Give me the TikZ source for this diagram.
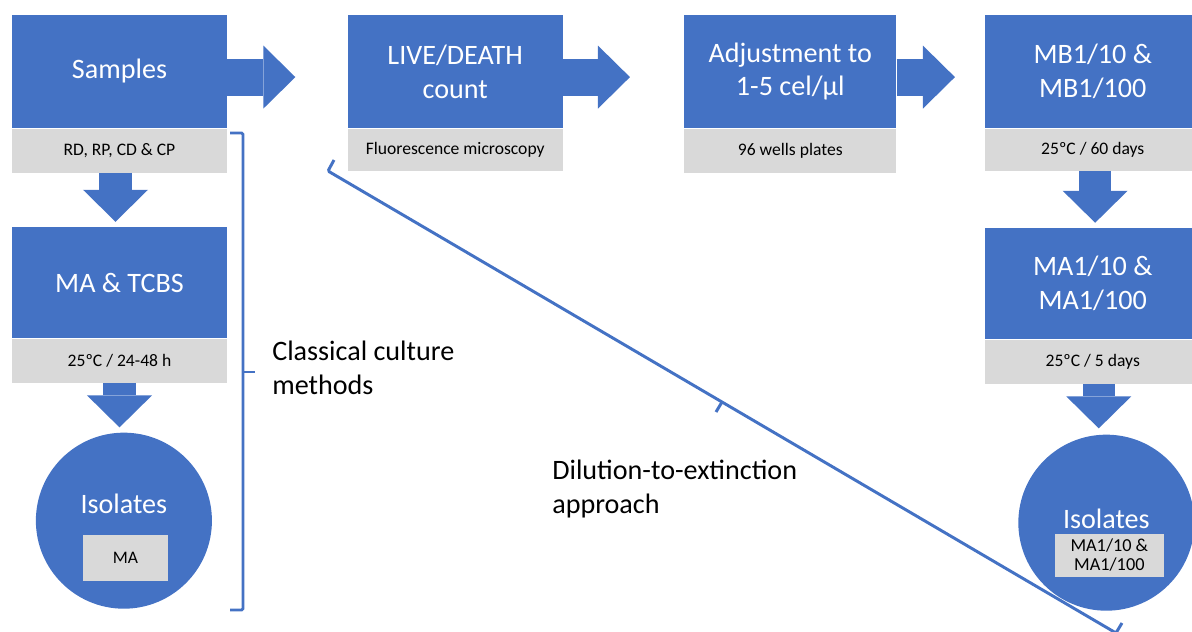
\documentclass[tikz,border=0pt]{standalone}
\usepackage{fontspec}
\setmainfont{Carlito}
\usepackage{tikz}
\usetikzlibrary{shapes, arrows.meta, positioning}
\definecolor{boxblue}{HTML}{4472C4}
\definecolor{notegray}{HTML}{D9D9D9}
\tikzstyle{stepbox} = [rectangle, fill=boxblue, text=white, align=center,
    minimum width=5.375cm, minimum height=2.825cm, inner sep=0pt,
    font=\fontsize{20}{24}\selectfont]
\tikzstyle{notebox} = [rectangle, fill=notegray, align=center,
    minimum width=5.375cm, minimum height=1.1cm, inner sep=0pt,
    font=\fontsize{12.5}{15}\selectfont]
\tikzstyle{isolate} = [circle, fill=boxblue, minimum size=4.4cm, inner sep=0pt]
\tikzstyle{isotitle} = [text=white, inner sep=0pt, font=\fontsize{20}{24}\selectfont]
\tikzstyle{sidetext} = [align=left, inner sep=0pt, font=\fontsize{20}{24}\selectfont]
\tikzstyle{rarrow} = [draw=boxblue, line width=0.925cm,
    -{Triangle[length=0.8cm, width=1.575cm, line width=0pt]}]
\tikzstyle{darrow} = [draw=boxblue, line width=0.8cm,
    -{Triangle[length=0.8cm, width=1.625cm, line width=0pt]}]
\tikzstyle{bracket} = [draw=boxblue, line width=2.1pt, rounded corners=1pt]

\begin{document}
\begin{tikzpicture}[x=0.025cm, y=-0.025cm]
    \useasboundingbox (0,0) rectangle (1192,632);
    \clip (0,0) rectangle (1192,632);
    % Nodes
    \node [stepbox] (samples) at (119.5,71.5) {Samples};
    \node [notebox, below=0pt of samples] (samplesnote) {RD, RP, CD \& CP};
    \node [stepbox, right of=samples, node distance=8.39cm] (live) {LIVE/DEATH\\count};
    \node [notebox, below=0pt of live, minimum height=1.05cm] (livenote) {Fluorescence microscopy};
    \node [stepbox, minimum width=5.3cm, right of=live, node distance=8.375cm] (adjust) {Adjustment to\\1-5 cel/µl};
    \node [notebox, minimum width=5.3cm, below=0pt of adjust] (adjustnote) {96 wells plates};
    \node [stepbox, right of=adjust, node distance=7.56cm] (mb) {MB1/10 \&\\MB1/100};
    \node [notebox, below=0pt of mb, minimum height=1.05cm] (mbnote) {25ºC / 60 days};
    \node [stepbox, minimum height=2.775cm, below of=samples, node distance=5.275cm] (matcbs) {MA \& TCBS};
    \node [notebox, below=0pt of matcbs] (matcbsnote) {25ºC / 24-48 h};
    \node [stepbox, minimum height=2.775cm, below of=mb, node distance=5.3cm] (ma1) {MA1/10 \&\\MA1/100};
    \node [notebox, below=0pt of ma1] (ma1note) {25ºC / 5 days};
    \node [isolate, below of=matcbsnote, node distance=4cm, xshift=0.11cm] (isoleft) {};
    \node [isotitle, anchor=base] (isolefttitle) at ([yshift=0.19cm]isoleft.center) {Isolates};
    \node [notebox, minimum width=2.1cm, minimum height=1.15cm] (isoleftnote) at ([xshift=0.04cm, yshift=-0.925cm]isoleft.center) {MA};
    \node [isolate, below of=ma1note, node distance=4.025cm, xshift=0.34cm] (isoright) {};
    \node [isotitle, anchor=base] (isorighttitle) at ([yshift=-0.15cm]isoright.center) {Isolates};
    \node [notebox, minimum width=2.725cm, minimum height=1.075cm, font=\fontsize{13}{13.5}\selectfont] (isorightnote) at ([xshift=0.075cm, yshift=-0.81cm]isoright.center) {MA1/10 \&\\MA1/100};
    \node [sidetext, anchor=west] (classical) at (272,368) {Classical culture\\methods};
    \node [sidetext, anchor=west] (dilution) at (552,489) {Dilution-to-extinction\\approach};
    % Edges
    \draw [rarrow, shorten >=1.3cm] ([yshift=-0.14cm]samples.east) -- ([yshift=-0.14cm]live.west);
    \draw [rarrow, shorten >=1.35cm] ([yshift=-0.14cm]live.east) -- ([yshift=-0.14cm]adjust.west);
    \draw [rarrow, shorten >=0.75cm] ([yshift=-0.14cm]adjust.east) -- ([yshift=-0.14cm]mb.west);
    \draw [darrow, shorten >=0.125cm] ([xshift=-0.1cm]samplesnote.south) -- ([xshift=-0.1cm]matcbs.north);
    \draw [darrow, shorten >=0.125cm] (matcbsnote.south) -- (matcbsnote.south |- isoleft.north);
    \draw [darrow, shorten >=0.125cm] ([xshift=0.06cm]mbnote.south) -- ([xshift=0.06cm]ma1.north);
    \draw [darrow, shorten >=0.15cm] ([xshift=0.15cm]ma1note.south) -- ([xshift=0.15cm]ma1note.south |- isoright.north);
    % Braces
    \draw [bracket] (230,133) -- (243,133) -- (243,610) -- (230,610);
    \draw [bracket] (243,372) -- (255,372);
    \draw [bracket] (334,160) -- (328,171) -- (1116,633) -- (1122,623);
    \draw [bracket] (722,402) -- (716,412);
\end{tikzpicture}
\end{document}
